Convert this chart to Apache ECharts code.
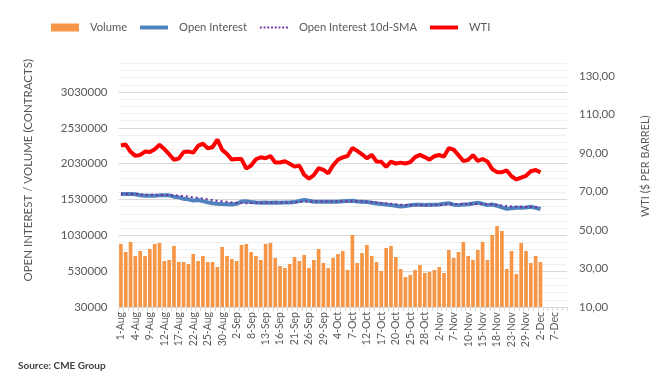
<!DOCTYPE html>
<html><head><meta charset="utf-8">
<script src="https://cdn.jsdelivr.net/npm/echarts@6/dist/echarts.min.js"></script>
<style>html,body{margin:0;padding:0;background:#fff}#c{width:671px;height:388px}</style>
</head><body><div id="c"></div>
<script>
const categories = [
'1-Aug','2-Aug','3-Aug','4-Aug','5-Aug','8-Aug','9-Aug','10-Aug','11-Aug','12-Aug','15-Aug','16-Aug','17-Aug','18-Aug','19-Aug','22-Aug','23-Aug','24-Aug','25-Aug','26-Aug','29-Aug','30-Aug','31-Aug',
'1-Sep','2-Sep','6-Sep','7-Sep','8-Sep','9-Sep','12-Sep','13-Sep','14-Sep','15-Sep','16-Sep','19-Sep','20-Sep','21-Sep','22-Sep','23-Sep','26-Sep','27-Sep','28-Sep','29-Sep','30-Sep',
'3-Oct','4-Oct','5-Oct','6-Oct','7-Oct','10-Oct','11-Oct','12-Oct','13-Oct','14-Oct','17-Oct','18-Oct','19-Oct','20-Oct','21-Oct','24-Oct','25-Oct','26-Oct','27-Oct','28-Oct','31-Oct',
'1-Nov','2-Nov','3-Nov','4-Nov','7-Nov','8-Nov','9-Nov','10-Nov','11-Nov','14-Nov','15-Nov','16-Nov','17-Nov','18-Nov','21-Nov','22-Nov','23-Nov','25-Nov','28-Nov','29-Nov','30-Nov',
'1-Dec','2-Dec','5-Dec','6-Dec','7-Dec','8-Dec','9-Dec'];

const volume = [
910000,798000,938000,742000,812000,742000,840000,910000,924000,672000,
686000,882000,658000,658000,630000,770000,672000,742000,658000,658000,
588000,868000,742000,700000,672000,896000,910000,798000,742000,686000,
910000,924000,714000,602000,574000,630000,728000,672000,756000,574000,
686000,840000,644000,574000,714000,770000,812000,547000,1036000,644000,
784000,896000,742000,658000,533000,854000,882000,728000,561000,449000,
477000,547000,616000,505000,519000,547000,588000,505000,826000,714000,
798000,938000,742000,686000,826000,938000,686000,1036000,1161000,1091000,
561000,812000,491000,924000,812000,644000,742000,658000];

const openInterest = [
1608000,1608000,1606000,1604000,1590000,1584000,1582000,1584000,1588000,1590000,
1588000,1570000,1560000,1540000,1532000,1515000,1524000,1508000,1490000,1478000,
1470000,1466000,1464000,1462000,1470000,1502000,1506000,1494000,1488000,1486000,
1488000,1486000,1488000,1486000,1488000,1490000,1494000,1510000,1524000,1512000,
1500000,1498000,1500000,1500000,1498000,1500000,1506000,1510000,1512000,1504000,
1500000,1494000,1486000,1476000,1468000,1460000,1452000,1444000,1432000,1440000,
1450000,1456000,1456000,1454000,1456000,1458000,1462000,1470000,1478000,1458000,
1452000,1460000,1464000,1474000,1484000,1470000,1452000,1460000,1444000,1420000,
1400000,1408000,1414000,1416000,1418000,1430000,1414000,1398000];

const oiSma10 = [
1608000,1608000,1607000,1606000,1602000,1598000,1596000,1595000,1594000,1593000,
1592000,1588000,1584000,1578000,1570000,1562000,1555000,1545000,1535000,1524000,
1514000,1506000,1498000,1490000,1484000,1480000,1478000,1480000,1484000,1486000,
1487000,1488000,1488000,1488000,1488000,1490000,1492000,1496000,1500000,1502000,
1503000,1504000,1504000,1504000,1504000,1505000,1506000,1506000,1506000,1506000,
1504000,1500000,1496000,1490000,1482000,1476000,1470000,1464000,1458000,1454000,
1452000,1450000,1450000,1450000,1450000,1452000,1456000,1460000,1464000,1466000,
1466000,1466000,1468000,1470000,1470000,1468000,1466000,1462000,1456000,1448000,
1440000,1434000,1430000,1428000,1426000,1426000,1424000,1420000];

const wti = [
93.89,94.42,90.66,88.54,89.01,90.76,90.50,91.93,94.34,92.09,
89.41,86.53,87.11,90.50,90.77,90.23,93.74,94.89,92.52,93.06,
97.01,91.64,89.55,86.61,86.87,86.88,81.94,83.54,86.79,87.78,
87.31,88.48,85.10,85.11,85.73,84.45,82.94,83.49,78.74,76.71,
78.50,82.15,81.23,79.49,83.63,86.52,87.76,88.45,92.64,91.13,
89.35,87.27,89.11,85.61,85.46,82.82,85.55,84.51,85.05,84.58,
85.32,87.91,89.08,87.90,86.53,88.37,89.00,88.17,92.61,91.79,
88.91,85.83,86.47,88.96,85.87,86.92,85.59,81.64,80.08,80.04,
80.95,77.94,76.28,77.24,78.20,80.55,81.22,79.98];

const leftTicks = [30000,530000,1030000,1530000,2030000,2530000,3030000];
const rightTicks = [10,30,50,70,90,110,130];

const FONT = 'Lato';
const TXT = '#595959';
const solidIcon = 'path://M0,0H30V4.2H0Z';
let dots = '';
for (let k = 0; k < 8; k++) { dots += 'M' + (k*4) + ',0h2v2h-2Z'; }
const dotIcon = 'path://' + dots;

const chart = echarts.init(document.getElementById('c'), null, {renderer:'canvas'});
chart.setOption({
  animation:false,
  textStyle:{fontFamily:FONT},
  legend:{
    left:46, top:17, itemWidth:28, itemHeight:8, itemGap:13,
    textStyle:{fontFamily:FONT, fontSize:11.2, color:TXT, padding:[0,0,0,6]},
    data:[{name:'Volume', icon:'rect'},{name:'Open Interest', icon:solidIcon},
          {name:'Open Interest 10d-SMA', icon:dotIcon},{name:'WTI', icon:solidIcon}]
  },
  grid:{left:118.5, right:104, top:63.4, bottom:81, containLabel:false},
  xAxis:{
    type:'category', data:categories, boundaryGap:true,
    axisLine:{show:true, lineStyle:{color:'#d9d9d9', width:1}},
    axisTick:{show:true, interval:0, length:4, lineStyle:{color:'#d9d9d9'}},
    axisLabel:{interval:2, rotate:90, fontSize:10.5, color:TXT, margin:5, fontFamily:FONT},
    splitLine:{show:false}
  },
  yAxis:[{
    type:'value', min:30000, max:3430000, interval:100000,
    name:'OPEN INTEREST / VOLUME (CONTRACTS)', nameLocation:'middle', nameRotate:90, nameGap:84,
    nameTextStyle:{fontFamily:FONT, fontSize:11.5, color:TXT, padding:[0,0,0,30]},
    axisLine:{show:false}, axisTick:{show:false},
    axisLabel:{fontSize:11.5, color:TXT, margin:11, fontFamily:FONT,
      formatter:function(v){return leftTicks.indexOf(v)>=0 ? String(v) : '';}},
    splitLine:{show:true, lineStyle:{color:['#d9d9d9','#efefef','#efefef','#efefef','#efefef'], width:1}}
  },{
    type:'value', min:10, max:136.6, interval:20, position:'right',
    name:'WTI ($ PER BARREL)', nameLocation:'middle', nameRotate:90, nameGap:73,
    nameTextStyle:{fontFamily:FONT, fontSize:11, color:TXT, padding:[0,0,0,38]},
    axisLine:{show:false}, axisTick:{show:false},
    axisLabel:{fontSize:11.5, color:TXT, margin:12, fontFamily:FONT,
      formatter:function(v){return rightTicks.indexOf(v)>=0 ? v.toFixed(2).replace('.',',') : '';}},
    splitLine:{show:false}
  }],
  series:[
    {name:'Volume', type:'bar', yAxisIndex:0, data:volume, barCategoryGap:'24%', clip:true,
      itemStyle:{color:'#F79646'}, z:1},
    {name:'Open Interest', type:'line', yAxisIndex:0, data:openInterest, symbol:'none', smooth:false,
      lineStyle:{color:'#4F81BD', width:4}, itemStyle:{color:'#4F81BD'}, z:2},
    {name:'Open Interest 10d-SMA', type:'line', yAxisIndex:0, data:oiSma10, symbol:'none',
      lineStyle:{color:'#7030A0', width:2, type:[2,3]}, itemStyle:{color:'#7030A0'}, z:3},
    {name:'WTI', type:'line', yAxisIndex:1, data:wti, symbol:'none',
      lineStyle:{color:'#FF0000', width:4}, itemStyle:{color:'#FF0000'}, z:4}
  ],
  graphic:[{type:'text', left:18, top:361, style:{text:'Source: CME Group', fontFamily:FONT, fontSize:10, fontWeight:'bold', fill:'#404040'}}]
});
</script></body></html>
